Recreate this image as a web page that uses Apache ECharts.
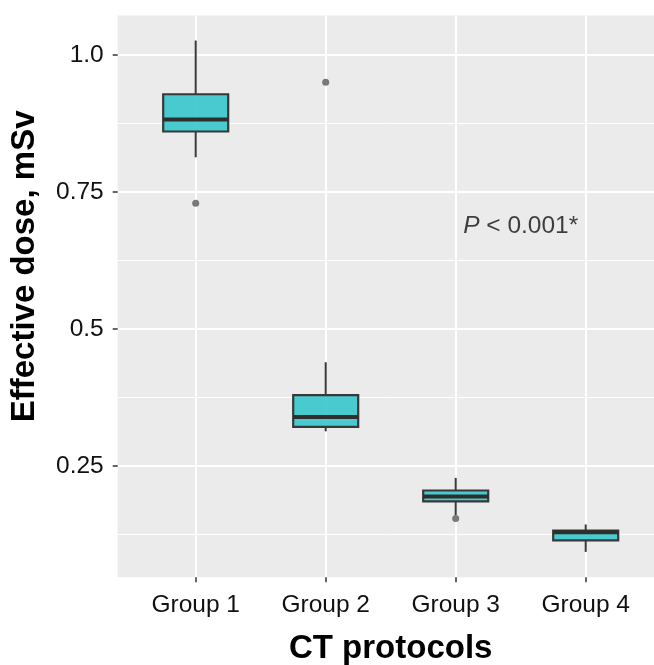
<!DOCTYPE html>
<html>
<head>
<meta charset="utf-8">
<script src="https://cdn.jsdelivr.net/npm/echarts@6/dist/echarts.min.js"></script>
<style>
  html, body { margin: 0; padding: 0; background: #fff; }
  #box-chart { width: 654px; height: 665px; }
</style>
</head>
<body>
<div id="box-chart"></div>
<script>
// data
var groups = ['Group 1', 'Group 2', 'Group 3', 'Group 4'];
var whiskerLow  = [0.813, 0.313, 0.160, 0.093];
var q1          = [0.860, 0.321, 0.185, 0.114];
var median      = [0.882, 0.339, 0.194, 0.129];
var q3          = [0.928, 0.379, 0.205, 0.132];
var whiskerHigh = [1.026, 0.439, 0.228, 0.143];
var outliers = [[1, 0.729], [2, 0.950], [3, 0.154]];

var yTicks = [0.25, 0.5, 0.75, 1.0];
var yTickLabels = ['0.25', '0.5', '0.75', '1.0'];
var yMinor = [0.125, 0.375, 0.625, 0.875];
var xTicks = [1, 2, 3, 4];

var boxRows = groups.map(function (g, i) {
    return [i + 1, whiskerLow[i], q1[i], median[i], q3[i], whiskerHigh[i]];
});

var box_chart = echarts.init(document.getElementById('box-chart'));

function renderBox(params, api) {
    var x = api.value(0);
    var lo = api.coord([x, api.value(1)]);
    var b1 = api.coord([x, api.value(2)]);
    var md = api.coord([x, api.value(3)]);
    var b3 = api.coord([x, api.value(4)]);
    var hi = api.coord([x, api.value(5)]);
    var half = api.size([0.5, 0])[0] / 2;
    var lineStyle = { stroke: '#3a3a3a', lineWidth: 2 };
    return {
        type: 'group',
        children: [
            { type: 'line', shape: { x1: hi[0], y1: hi[1], x2: b3[0], y2: b3[1] }, style: lineStyle },
            { type: 'line', shape: { x1: lo[0], y1: lo[1], x2: b1[0], y2: b1[1] }, style: lineStyle },
            {
                type: 'rect',
                shape: { x: b3[0] - half, y: b3[1], width: half * 2, height: b1[1] - b3[1] },
                style: { fill: 'rgba(54,199,204,0.9)', stroke: '#383838', lineWidth: 2.2 }
            },
            { type: 'line', shape: { x1: md[0] - half, y1: md[1], x2: md[0] + half, y2: md[1] }, style: { stroke: '#2e2e2e', lineWidth: 4 } }
        ]
    };
}

box_chart.setOption({
    animation: false,
    grid: {
        left: 117.7,
        width: 546,
        top: 15.5,
        bottom: 87.7,
        show: true,
        backgroundColor: '#EBEBEB',
        borderWidth: 0,
        outerBoundsMode: 'none'
    },
    xAxis: {
        type: 'value',
        min: 0.4,
        max: 4.6,
        name: 'CT protocols',
        nameLocation: 'middle',
        nameGap: 55,
        nameTextStyle: { fontFamily: 'Liberation Sans', fontSize: 33, fontWeight: 'bold', color: '#000' },
        axisLine: { show: false },
        axisTick: { show: true, customValues: xTicks, length: 5, lineStyle: { color: '#333', width: 1.5 } },
        axisLabel: {
            customValues: xTicks,
            margin: 15,
            fontFamily: 'Liberation Sans',
            fontSize: 24.5,
            color: '#111',
            formatter: function (v) { return groups[Math.round(v) - 1]; }
        },
        splitLine: { show: true, lineStyle: { color: '#fff', width: 2 } }
    },
    yAxis: [
        {
            type: 'value',
            min: 0.0466,
            max: 1.0717,
            name: 'Effective dose, mSv',
            nameLocation: 'middle',
            nameGap: 76,
            nameTextStyle: { fontFamily: 'Liberation Sans', fontSize: 33, fontWeight: 'bold', color: '#000', padding: [0, 0, 0, 60] },
            axisLine: { show: false },
            axisTick: { show: true, customValues: yTicks, length: 5, lineStyle: { color: '#333', width: 1.5 } },
            axisLabel: {
                customValues: yTicks,
                margin: 14,
                fontFamily: 'Liberation Sans',
                fontSize: 24.5,
                color: '#111',
                formatter: function (v) { return yTickLabels[yTicks.indexOf(v)] || String(v); }
            },
            splitLine: { show: true, lineStyle: { color: '#fff', width: 2 } }
        },
        {
            // minor grid lines
            type: 'value',
            min: 0.0466,
            max: 1.0717,
            axisLine: { show: false },
            axisTick: { show: false, customValues: yMinor },
            axisLabel: { show: false, customValues: yMinor },
            splitLine: { show: true, lineStyle: { color: '#fff', width: 1 } }
        }
    ],
    series: [
        {
            type: 'custom',
            renderItem: renderBox,
            encode: { x: 0, y: [1, 2, 3, 4, 5] },
            data: boxRows,
            z: 3
        },
        {
            type: 'scatter',
            data: outliers,
            symbolSize: 7,
            itemStyle: { color: '#595959' },
            z: 4
        },
        {
            type: 'scatter',
            data: [[3.5, 0.687]],
            symbolSize: 0,
            silent: true,
            label: {
                show: true,
                position: 'inside',
                formatter: '{i|P} < 0.001*',
                fontFamily: 'Liberation Sans',
                fontSize: 24.5,
                color: '#111',
                rich: {
                    i: { fontStyle: 'italic', fontFamily: 'Liberation Sans', fontSize: 24.5, color: '#111' }
                }
            }
        }
    ]
});
</script>
</body>
</html>
